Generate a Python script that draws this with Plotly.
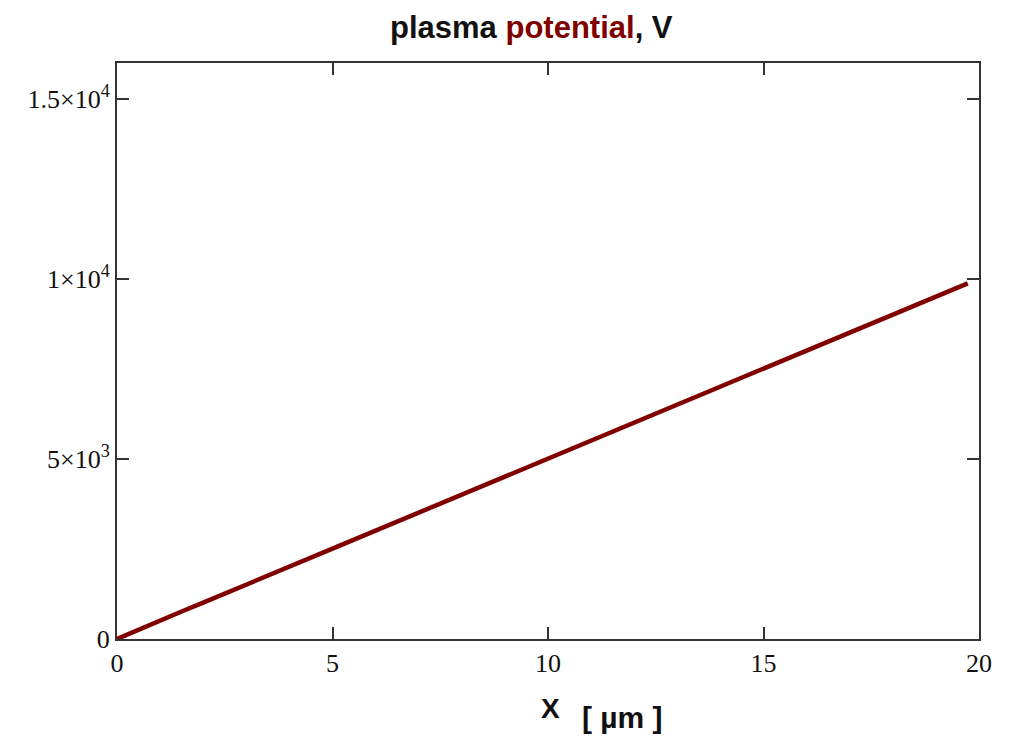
import plotly.graph_objects as go

# data
x_um = [0, 0.5, 1, 1.5, 2, 2.5, 3, 3.5, 4, 4.5, 5, 5.5, 6, 6.5, 7, 7.5, 8, 8.5, 9, 9.5,
        10, 10.5, 11, 11.5, 12, 12.5, 13, 13.5, 14, 14.5, 15, 15.5, 16, 16.5, 17, 17.5,
        18, 18.5, 19, 19.5, 19.74]
potential_V = [0, 265, 515, 765, 1010, 1265, 1515, 1760, 2010, 2260, 2510, 2760, 3010, 3260,
               3510, 3760, 4010, 4260, 4505, 4755, 5000, 5250, 5500, 5740, 6000, 6250, 6500,
               6750, 7000, 7260, 7510, 7760, 8010, 8260, 8510, 8760, 9010, 9260, 9510, 9760, 9880]

x_tickvals = [0, 5, 10, 15, 20]
x_ticktext = ["0", "5", "10", "15", "20"]
y_tickvals = [0, 5000, 10000, 15000]
y_ticktext = ["0", "5×10<sup>3</sup>", "1×10<sup>4</sup>", "1.5×10<sup>4</sup>"]

LINE = "#800000"
AXC = "#333333"
SERIF = "Liberation Serif, Times New Roman, serif"
SANS = "Liberation Sans, Arial, sans-serif"

fig = go.Figure()
fig.add_trace(go.Scatter(x=x_um, y=potential_V, mode="lines",
                         line=dict(color=LINE, width=4.5), showlegend=False))

axis_common = dict(showgrid=False, zeroline=False, showline=True, linecolor=AXC,
                   linewidth=2, mirror="ticks", ticks="inside", ticklen=12,
                   tickwidth=1.5, tickcolor=AXC,
                   tickfont=dict(family=SERIF, size=26, color="#111"))

# page body has an ~8px margin, so the figure is shrunk by that amount
fig.update_layout(
    width=1010, height=728,
    margin=dict(l=109, r=39, t=55, b=97),
    paper_bgcolor="white", plot_bgcolor="white",
    xaxis=dict(range=[0, 20], tickvals=x_tickvals, ticktext=x_ticktext, **axis_common),
    yaxis=dict(range=[0, 16000], tickvals=y_tickvals, ticktext=y_ticktext, **axis_common),
)

fig.add_annotation(text="<b>plasma <span style='color:#800000'>potential</span>, V</b>",
                   xref="paper", yref="paper", x=0.481, y=1.061,
                   xanchor="center", yanchor="middle", showarrow=False,
                   font=dict(family=SANS, size=31, color="#111"))
fig.add_annotation(text="<b>X</b>", xref="paper", yref="paper", x=0.503, y=-0.12,
                   xanchor="center", yanchor="middle", showarrow=False,
                   font=dict(family=SANS, size=28, color="#111"))
fig.add_annotation(text="<b>[ µm ]</b>", xref="paper", yref="paper", x=0.587, y=-0.137,
                   xanchor="center", yanchor="middle", showarrow=False,
                   font=dict(family=SANS, size=30, color="#111"))

fig.write_html("out.html")
